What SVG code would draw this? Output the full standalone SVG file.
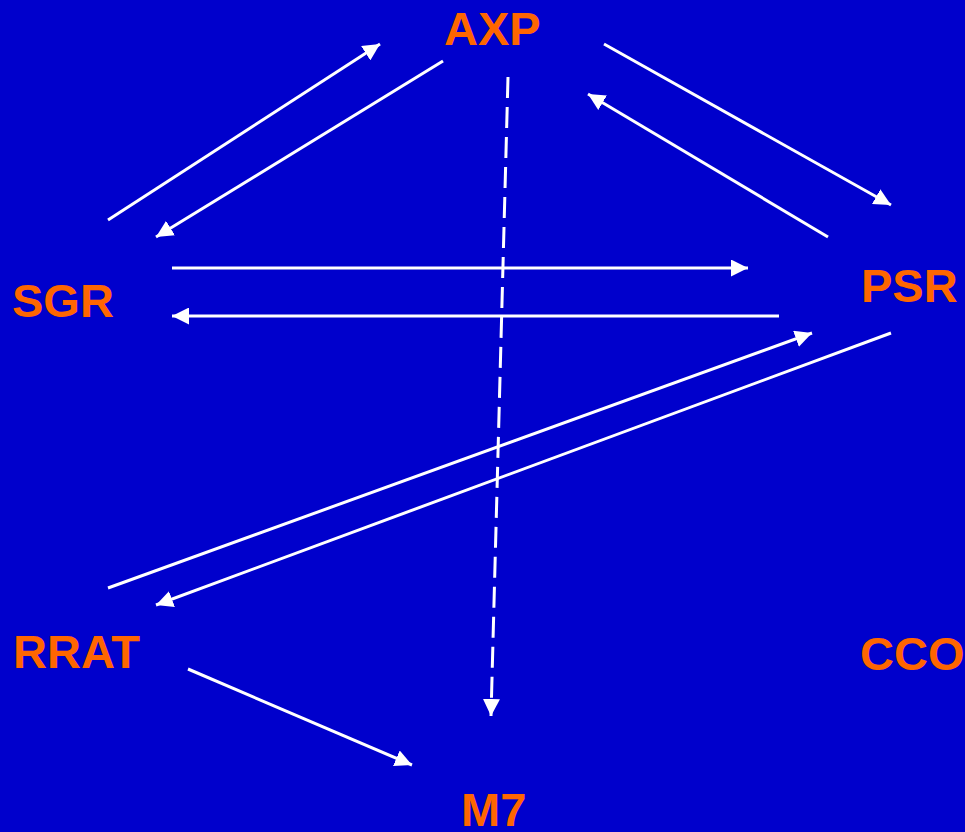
<svg xmlns="http://www.w3.org/2000/svg" width="965" height="832" viewBox="0 0 965 832">
  <style>
    .lbl { font-family: "Liberation Sans", Arial, sans-serif; font-weight: bold; font-size: 47px; fill: #FF6600; }
    .edge { stroke: #FFFFFF; stroke-width: 3; fill: none; marker-end: url(#head); }
    .dash { stroke-dasharray: 21 9; }
  </style>
  <defs>
    <marker id="head" markerUnits="userSpaceOnUse" markerWidth="18" markerHeight="17" refX="17" refY="8.5" orient="auto">
      <path d="M0,0 L17,8.5 L0,17 Z" fill="#FFFFFF"/>
    </marker>
  </defs>
  <rect x="0" y="0" width="965" height="832" fill="#0000CC"/>

  <g id="connectors">
    <line class="edge" x1="108" y1="220" x2="380" y2="44"/>
    <line class="edge" x1="443" y1="61" x2="156" y2="237"/>
    <line class="edge" x1="604" y1="44" x2="891" y2="205"/>
    <line class="edge" x1="828" y1="237" x2="588" y2="94"/>
    <line class="edge" x1="172" y1="268" x2="748" y2="268"/>
    <line class="edge" x1="779" y1="316" x2="172" y2="316"/>
    <line class="edge" x1="108" y1="588" x2="812" y2="333"/>
    <line class="edge" x1="891" y1="333" x2="156" y2="605"/>
    <line class="edge" x1="188" y1="669" x2="412" y2="765"/>
    <line class="edge dash" x1="508" y1="77" x2="491" y2="716"/>
  </g>

  <g id="AXP"><text class="lbl" x="444" y="45">AXP</text></g>
  <g id="SGR"><text class="lbl" x="12" y="317">SGR</text></g>
  <g id="PSR"><text class="lbl" x="861" y="302">PSR</text></g>
  <g id="RRAT"><text class="lbl" x="13" y="668">RRAT</text></g>
  <g id="CCO"><text class="lbl" x="860" y="670">CCO</text></g>
  <g id="M7"><text class="lbl" x="461" y="826">M7</text></g>
</svg>
